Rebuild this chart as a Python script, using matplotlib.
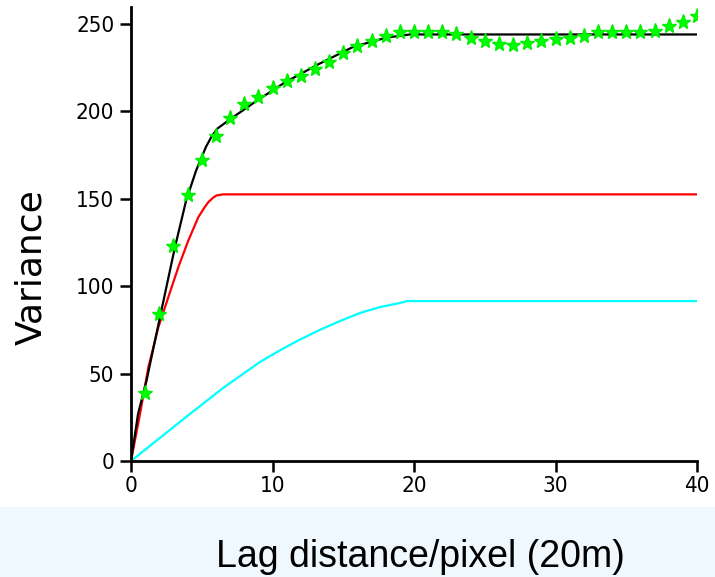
import matplotlib
matplotlib.use('Agg')
import matplotlib.pyplot as plt
from matplotlib import font_manager
from matplotlib.patches import Rectangle

# experimental variogram (stars), lag 1..40
lags = list(range(1, 41))
gamma_exp = [39, 84, 123, 152, 172, 186, 196, 204, 208, 213,
             217, 220, 224, 228, 233, 237, 240, 243, 245, 245,
             245, 245, 244, 242, 240, 238.5, 238, 239, 240, 241,
             242, 243, 245, 245, 245, 245, 246, 248.5, 251, 254.5]

# fitted model curves
red_x = [0, 0.64, 1.23, 1.94, 2.64, 3.35, 4.05, 4.76, 5.2, 5.47, 5.8, 6.05, 6.5, 40]
red_y = [0, 27, 53.7, 76.6, 93.7, 110.9, 126, 139.4, 145, 148, 150.5, 151.8, 152.4, 152.4]

cyan_x = [0, 1.89, 4.24, 6.6, 9.12, 10.53, 11.94, 13.36, 14.77, 16.18, 17.6, 19.0, 19.5, 40]
cyan_y = [0, 12.2, 27.4, 42.3, 56.6, 63.3, 69.4, 75.0, 80, 84.6, 88, 90.3, 91.4, 91.4]

black_x = [0, 0.5, 1.1, 1.7, 2.4, 3.1, 3.9, 4.6, 5.3, 5.7, 6.1, 7.05, 8.9, 10.9,
           13.3, 15.7, 18.05, 19.7, 40]
black_y = [0, 27, 46, 69, 95.6, 122, 149, 166, 179.6, 185.5, 190, 195.6, 206, 216.5,
           227, 236.7, 242, 243.8, 243.8]

xticks = [0, 10, 20, 30, 40]
yticks = [0, 50, 100, 150, 200, 250]

# narrow font for the tick labels if one is installed
entries = [(f.name, f.stretch) for f in font_manager.fontManager.ttflist]
if any(n == 'Liberation Sans Narrow' for n, s in entries):
    tick_font = dict(family='Liberation Sans Narrow', size=18)
elif any(n == 'DejaVu Sans' and 'condensed' in str(s) for n, s in entries):
    tick_font = dict(family='DejaVu Sans', stretch='condensed', size=16)
else:
    tick_font = dict(family='DejaVu Sans', size=14)

fig = plt.figure(figsize=(7.15, 5.77), dpi=100)

# light blue band behind the x label
fig.patches.append(Rectangle((0, 0), 1, 70 / 577, transform=fig.transFigure,
                             facecolor='#EEF8FE', edgecolor='none', zorder=0))

ax = fig.add_axes([131 / 715, 116 / 577, 566 / 715, 454 / 577])

ax.plot(red_x, red_y, color='#FF0000', lw=1.6)
ax.plot(cyan_x, cyan_y, color='#00FFFF', lw=1.6)
ax.plot(black_x, black_y, color='black', lw=1.6)
ax.plot(lags, gamma_exp, linestyle='none', marker='*', markersize=11,
        color='#00FF00', markeredgecolor='#00EE00')

ax.set_xlim(0, 40)
ax.set_ylim(0, 259.5)
ax.set_xticks(xticks)
ax.set_yticks(yticks)

for side in ['top', 'right']:
    ax.spines[side].set_visible(False)
for side in ['left', 'bottom']:
    ax.spines[side].set_linewidth(2)

ax.tick_params(width=1.8, length=8, direction='out')
ax.tick_params(axis='y', pad=4)
ax.tick_params(axis='x', pad=3)
for lbl in ax.get_xticklabels() + ax.get_yticklabels():
    lbl.set_fontfamily(tick_font['family'])
    lbl.set_fontsize(tick_font['size'])
    if 'stretch' in tick_font:
        lbl.set_fontstretch(tick_font['stretch'])

fig.text(31.5 / 715, 310 / 577, 'Variance', rotation=90, fontsize=26,
         family='DejaVu Sans', ha='center', va='center')

fig.text(420 / 715, 10 / 577, 'Lag distance/pixel (20m)', fontsize=27,
         family='Liberation Sans', ha='center', va='baseline')

fig.savefig('out.png', dpi=100, facecolor='white')
